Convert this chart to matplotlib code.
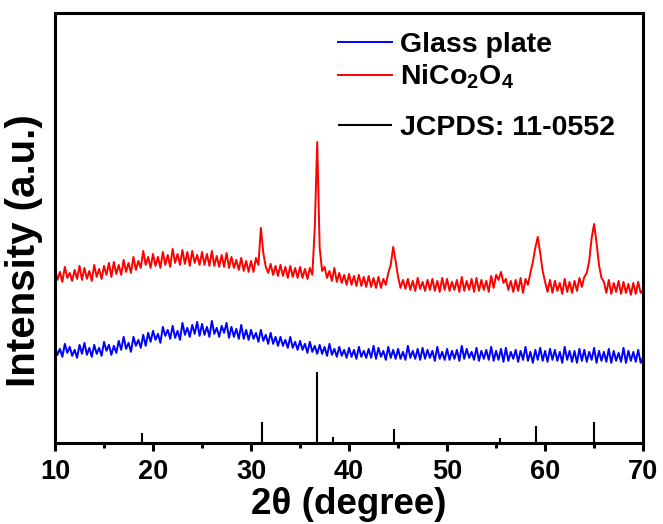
import matplotlib
matplotlib.use('Agg')
import matplotlib.pyplot as plt
from matplotlib.ticker import MultipleLocator

# glass plate trace, 0.25 deg steps from 10 to 70 (a.u.)
glass_x = [10 + 0.25 * i for i in range(241)]
glass_y = [97, 88, 94, 86, 99, 90, 96, 87, 93, 85, 98, 89, 100, 88, 95, 86,
           98, 89, 95, 87, 101, 92, 98, 88, 97, 90, 102, 93, 106, 94, 100, 91,
           106, 97, 103, 95, 108, 97, 110, 101, 112, 103, 109, 100, 116, 107, 113, 104,
           117, 105, 112, 103, 120, 108, 115, 106, 118, 109, 121, 107, 119, 108, 116, 106,
           122, 109, 115, 106, 117, 110, 120, 105, 116, 106, 114, 104, 118, 104, 113, 103,
           113, 104, 110, 101, 113, 102, 108, 99, 110, 99, 106, 97, 106, 97, 103, 95,
           106, 95, 101, 93, 102, 93, 99, 90, 101, 91, 97, 89, 98, 89, 96, 87,
           99, 88, 94, 86, 96, 87, 93, 85, 95, 86, 93, 84, 96, 86, 92, 85,
           94, 85, 97, 84, 95, 86, 92, 83, 96, 85, 93, 84, 94, 84, 91, 83,
           97, 85, 92, 84, 94, 83, 95, 84, 93, 85, 92, 82, 96, 84, 91, 83,
           94, 83, 92, 84, 93, 82, 97, 84, 94, 85, 91, 83, 95, 82, 92, 84,
           93, 83, 96, 82, 92, 83, 94, 81, 95, 82, 91, 84, 93, 81, 92, 83,
           96, 82, 91, 80, 93, 83, 95, 82, 92, 81, 94, 83, 93, 82, 91, 80,
           96, 83, 92, 81, 92, 80, 94, 82, 93, 81, 91, 83, 95, 80, 92, 82,
           91, 81, 94, 80, 92, 82, 90, 81, 95, 80, 92, 82, 91, 81, 93, 80,
           86]

# NiCo2O4 film trace, same 0.25 deg steps
nco_x = [10 + 0.25 * i for i in range(241)]
nco_y = [174, 163, 171, 161, 176, 165, 170, 162, 173, 164, 177, 163, 175, 164, 172, 162,
         178, 166, 174, 164, 177, 168, 180, 166, 181, 169, 178, 168, 183, 171, 180, 170,
         186, 173, 182, 175, 192, 178, 186, 175, 189, 177, 186, 175, 191, 178, 188, 176,
         194, 180, 189, 178, 193, 179, 191, 177, 192, 180, 188, 178, 191, 178, 189, 177,
         192, 177, 187, 176, 188, 176, 190, 175, 186, 175, 183, 173, 185, 172, 182, 171,
         182, 171, 185, 178, 215, 190, 176, 170, 179, 168, 177, 167, 178, 167, 176, 165,
         177, 166, 175, 165, 176, 165, 174, 164, 175, 168, 215, 301, 195, 172, 176, 165,
         172, 162, 175, 161, 170, 160, 168, 158, 169, 158, 167, 157, 168, 157, 166, 156,
         167, 156, 165, 155, 166, 155, 164, 158, 170, 178, 196, 182, 166, 155, 163, 154,
         164, 153, 162, 152, 165, 154, 161, 152, 163, 153, 164, 152, 162, 151, 165, 153,
         164, 152, 161, 153, 163, 151, 166, 152, 162, 153, 164, 151, 165, 152, 163, 153,
         162, 151, 167, 155, 168, 163, 171, 160, 164, 153, 162, 151, 163, 152, 165, 150,
         164, 158, 170, 181, 195, 206, 190, 172, 161, 151, 163, 150, 162, 152, 160, 149,
         164, 151, 161, 150, 162, 152, 165, 156, 166, 170, 182, 205, 219, 200, 178, 165,
         161, 150, 163, 149, 160, 151, 162, 149, 161, 150, 159, 148, 160, 149, 161, 150,
         153]

# JCPDS 11-0552 reference lines
ref_x = [18.9, 31.1, 36.7, 38.4, 44.6, 55.4, 59.1, 65.0]
ref_h = [10, 21, 71, 6, 14, 5, 17, 21]

plt.rcParams['font.family'] = ['Liberation Sans', 'DejaVu Sans']
plt.rcParams['font.weight'] = 'bold'
plt.rcParams['mathtext.default'] = 'regular'

fig = plt.figure(figsize=(6.63, 5.24), dpi=100)
ax = fig.add_axes([0.083, 0.155, 0.887, 0.82])

l1, = ax.plot(glass_x, glass_y, color='#0000ff', lw=1.4)
l2, = ax.plot(nco_x, nco_y, color='#ff0000', lw=1.4)
l3 = ax.vlines(ref_x, 0, ref_h, color='black', lw=1.5)

ax.set_xlim(10, 70)
ax.set_ylim(0, 430)
ax.set_yticks([])
ax.xaxis.set_major_locator(MultipleLocator(10))
ax.xaxis.set_minor_locator(MultipleLocator(5))
ax.tick_params(axis='x', which='major', direction='out', length=6, width=2.2, pad=6,
               labelsize=19.5)
ax.tick_params(axis='x', which='minor', direction='out', length=3.5, width=2.2)
for s in ax.spines.values():
    s.set_linewidth(2.2)

ax.set_xlabel('2θ (degree)', fontsize=26.5, fontweight='bold', labelpad=1)
ax.set_ylabel('Intensity (a.u.)', fontsize=29, fontweight='bold')
ax.yaxis.set_label_coords(-0.02, 0.447)

legkw = dict(loc='upper left', frameon=False, prop={'size': 20.5, 'weight': 'bold'},
             handlelength=1.9, handletextpad=0.25, borderpad=0.3)
leg1 = ax.legend([l1, l2], ['Glass plate', r'NiCo$_2$O$_4$'],
                 bbox_to_anchor=(0.443, 1.008), labelspacing=0.15, **legkw)
ax.add_artist(leg1)
ax.legend([l3], ['JCPDS: 11-0552'], bbox_to_anchor=(0.443, 0.817), **legkw)

fig.savefig('out.png', dpi=100)
